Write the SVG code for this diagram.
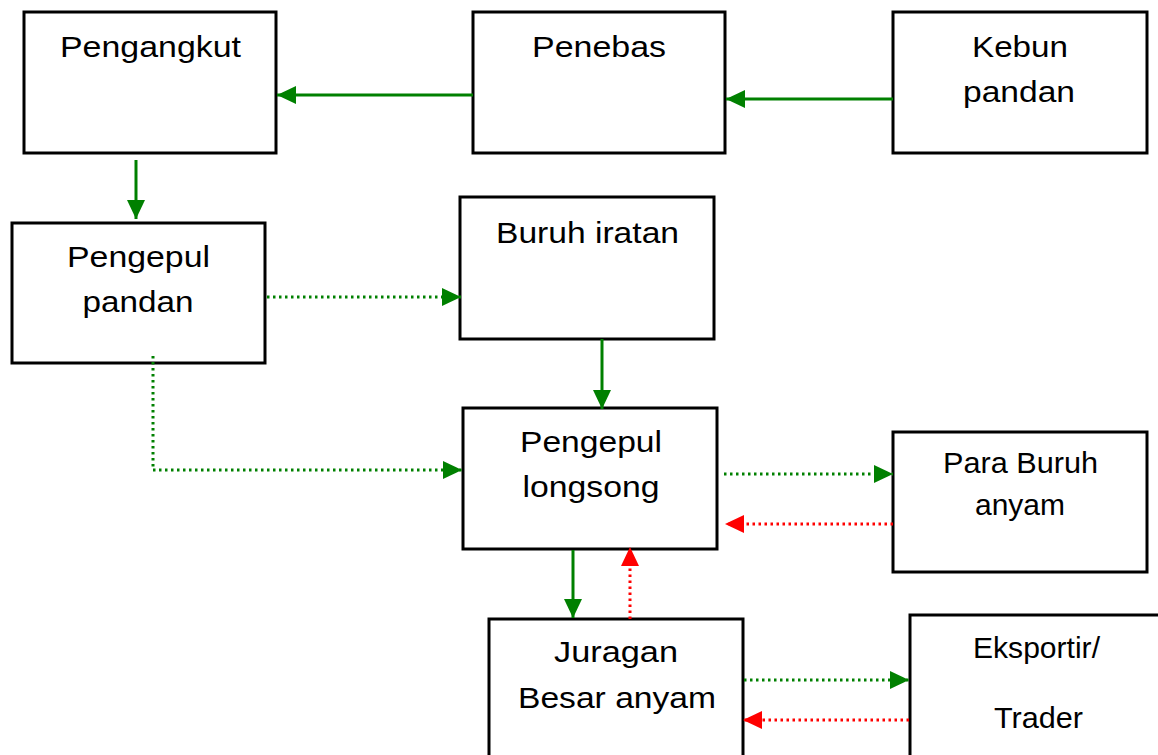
<svg xmlns="http://www.w3.org/2000/svg" width="1158" height="755" viewBox="0 0 1158 755">
<style>
.box{fill:#fff;stroke:#000;stroke-width:3}
.t{font-family:"Liberation Sans",Arial,sans-serif;font-size:30px;fill:#000;text-anchor:middle}
.g{stroke:#008000;stroke-width:3;fill:none}
.gd{stroke:#008000;stroke-width:3;fill:none;stroke-dasharray:2.5 3.5}
.rd{stroke:#ff0000;stroke-width:3;fill:none;stroke-dasharray:2.5 3.5}
</style>
<defs>
<marker id="ag" markerUnits="userSpaceOnUse" markerWidth="20" markerHeight="20" refX="19" refY="9" orient="auto"><path d="M0,0 L19,9 L0,18 Z" fill="#008000"/></marker>
<marker id="ar" markerUnits="userSpaceOnUse" markerWidth="20" markerHeight="20" refX="19" refY="9" orient="auto"><path d="M0,0 L19,9 L0,18 Z" fill="#ff0000"/></marker>
</defs>
<rect width="1158" height="755" fill="#fff"/>
<g id="pengangkut"><rect class="box" x="24" y="12" width="252" height="141"/><text class="t" x="150.5" y="57" textLength="181" lengthAdjust="spacingAndGlyphs">Pengangkut</text></g>
<g id="penebas"><rect class="box" x="473" y="12" width="252" height="141"/><text class="t" x="599" y="57" textLength="134" lengthAdjust="spacingAndGlyphs">Penebas</text></g>
<g id="kebun"><rect class="box" x="893" y="12" width="254" height="141"/><text class="t" x="1020" y="57" textLength="96" lengthAdjust="spacingAndGlyphs">Kebun</text><text class="t" x="1019" y="102" textLength="112" lengthAdjust="spacingAndGlyphs">pandan</text></g>
<g id="pengepul-pandan"><rect class="box" x="12" y="223" width="253" height="140"/><text class="t" x="138.5" y="267" textLength="143" lengthAdjust="spacingAndGlyphs">Pengepul</text><text class="t" x="138" y="312" textLength="111" lengthAdjust="spacingAndGlyphs">pandan</text></g>
<g id="buruh-iratan"><rect class="box" x="460" y="197" width="254" height="142"/><text class="t" x="587.5" y="243" textLength="183" lengthAdjust="spacingAndGlyphs">Buruh iratan</text></g>
<g id="pengepul-longsong"><rect class="box" x="463" y="408" width="254" height="141"/><text class="t" x="591" y="452" textLength="142" lengthAdjust="spacingAndGlyphs">Pengepul</text><text class="t" x="591" y="497" textLength="137" lengthAdjust="spacingAndGlyphs">longsong</text></g>
<g id="para-buruh"><rect class="box" x="893" y="432" width="254" height="140"/><text class="t" x="1020.5" y="473" textLength="155" lengthAdjust="spacingAndGlyphs">Para Buruh</text><text class="t" x="1020" y="515" textLength="90" lengthAdjust="spacingAndGlyphs">anyam</text></g>
<g id="juragan"><rect class="box" x="489" y="619" width="254" height="145"/><text class="t" x="616" y="662" textLength="124" lengthAdjust="spacingAndGlyphs">Juragan</text><text class="t" x="617" y="708" textLength="198" lengthAdjust="spacingAndGlyphs">Besar anyam</text></g>
<g id="eksportir"><rect class="box" x="910" y="615" width="260" height="150"/><text class="t" x="1036.5" y="658" textLength="127" lengthAdjust="spacingAndGlyphs">Eksportir/</text><text class="t" x="1038.5" y="728" textLength="89" lengthAdjust="spacingAndGlyphs">Trader</text></g>
<g id="connectors">
<line class="g" x1="473" y1="95" x2="277" y2="95" marker-end="url(#ag)"/>
<line class="g" x1="893" y1="99" x2="726" y2="99" marker-end="url(#ag)"/>
<line class="g" x1="136" y1="160" x2="136" y2="219" marker-end="url(#ag)"/>
<line class="gd" x1="267" y1="297" x2="461" y2="297" marker-end="url(#ag)"/>
<line class="g" x1="602" y1="339" x2="602" y2="409" marker-end="url(#ag)"/>
<polyline class="gd" points="153,356 153,470 462,470" marker-end="url(#ag)"/>
<line class="gd" x1="724" y1="474" x2="893" y2="474" marker-end="url(#ag)"/>
<line class="rd" x1="893" y1="524" x2="725" y2="524" marker-end="url(#ar)"/>
<line class="g" x1="573" y1="550" x2="573" y2="618" marker-end="url(#ag)"/>
<line class="rd" x1="630" y1="619" x2="630" y2="547" marker-end="url(#ar)"/>
<line class="gd" x1="744" y1="680" x2="909" y2="680" marker-end="url(#ag)"/>
<line class="rd" x1="909" y1="720" x2="743" y2="720" marker-end="url(#ar)"/>
</g>
</svg>
